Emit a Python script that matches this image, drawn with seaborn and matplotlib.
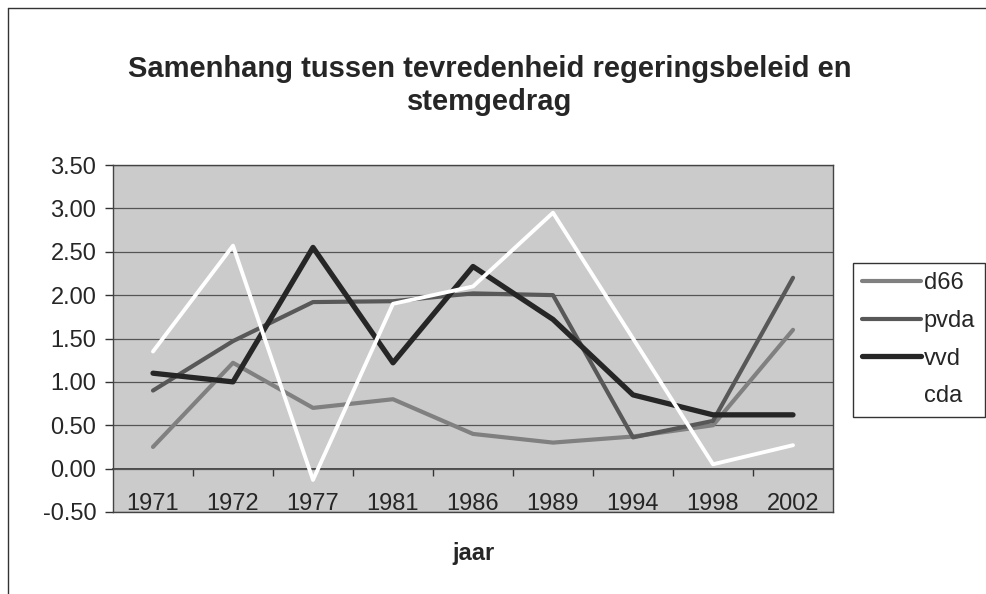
import matplotlib
matplotlib.use("Agg")
import matplotlib.pyplot as plt
import seaborn as sns
import pandas as pd
from matplotlib.lines import Line2D

# Data
jaren = ['1971', '1972', '1977', '1981', '1986', '1989', '1994', '1998', '2002']
d66 = [0.25, 1.22, 0.70, 0.80, 0.40, 0.30, 0.37, 0.50, 1.60]
pvda = [0.90, 1.47, 1.92, 1.93, 2.02, 2.00, 0.36, 0.55, 2.20]
vvd = [1.10, 1.00, 2.55, 1.22, 2.33, 1.72, 0.85, 0.62, 0.62]
cda = [1.35, 2.57, -0.13, 1.90, 2.10, 2.95, 1.50, 0.05, 0.27]

y_ticks = [-0.5, 0.0, 0.5, 1.0, 1.5, 2.0, 2.5, 3.0, 3.5]
titel = 'Samenhang tussen tevredenheid regeringsbeleid en\nstemgedrag'

sns.set_style('white')
plt.rcParams['font.family'] = ['Liberation Sans', 'DejaVu Sans']

W, H = 986, 594
fig = plt.figure(figsize=(W / 100, H / 100), dpi=100)
ax = fig.add_axes([113 / W, 1 - 512 / H, 720 / W, 347 / H])
ax.set_facecolor('#cbcbcb')

# name -> (values, colour, linewidth)
series = {
    'd66': (d66, '#808080', 3.0),
    'pvda': (pvda, '#585858', 3.0),
    'vvd': (vvd, '#262626', 3.8),
    'cda': (cda, '#ffffff', 2.8),
}
for naam, (waarden, kleur, lw) in series.items():
    df = pd.DataFrame({'jaar': jaren, 'waarde': waarden})
    sns.lineplot(x='jaar', y='waarde', data=df, ax=ax, color=kleur, linewidth=lw,
                 label=naam, sort=False, errorbar=None, solid_capstyle='round')

ymin, ymax = y_ticks[0], y_ticks[-1]
ax.set_xlim(-0.5, len(jaren) - 0.5)
ax.set_ylim(ymin, ymax)

ax.set_yticks(y_ticks)
ax.set_yticklabels([f'{v:.2f}' for v in y_ticks])
ax.yaxis.grid(True, color='#555555', linewidth=0.9)
ax.xaxis.grid(False)
ax.set_axisbelow(True)
ax.tick_params(axis='y', left=True, direction='out', length=6, width=1,
               color='#333333', labelsize=17, pad=6)
ax.tick_params(axis='x', length=0, labelsize=17, pad=-14)

for spine in ax.spines.values():
    spine.set_color('#444444')
    spine.set_linewidth(1)

# category axis crossing at y = 0, Excel style tick marks between categories
nul_pos = (0 - ymin) / (ymax - ymin)
sec = ax.secondary_xaxis(nul_pos)
sec.set_xticks([i + 0.5 for i in range(len(jaren) - 1)])
sec.tick_params(length=5, width=1, direction='out', color='#333333', labelbottom=False)
sec.spines['bottom'].set_color('#333333')
sec.spines['bottom'].set_linewidth(1.2)

ax.set_xlabel('jaar', fontsize=17, fontweight='bold', labelpad=20)
ax.set_ylabel('')

leg = ax.legend(loc='upper left', bbox_to_anchor=(853 / W, 1 - 263 / H),
                bbox_transform=fig.transFigure, frameon=True, fancybox=False,
                edgecolor='black', facecolor='white', fontsize=17,
                handlelength=2.5, handletextpad=0.1, labelspacing=0.66,
                borderpad=0.4, borderaxespad=0)
leg.get_frame().set_linewidth(1)

fig.text(0.497, 1 - 55 / H, titel, ha='center', va='top', fontsize=21,
         fontweight='bold', linespacing=1.25)

# outer chart border (only top and left visible in the scan)
fig.add_artist(Line2D([8 / W, 1], [1 - 8 / H, 1 - 8 / H], transform=fig.transFigure,
                      color='#333333', linewidth=1))
fig.add_artist(Line2D([8 / W, 8 / W], [0, 1 - 8 / H], transform=fig.transFigure,
                      color='#333333', linewidth=1))

fig.savefig('out.png', dpi=100)
